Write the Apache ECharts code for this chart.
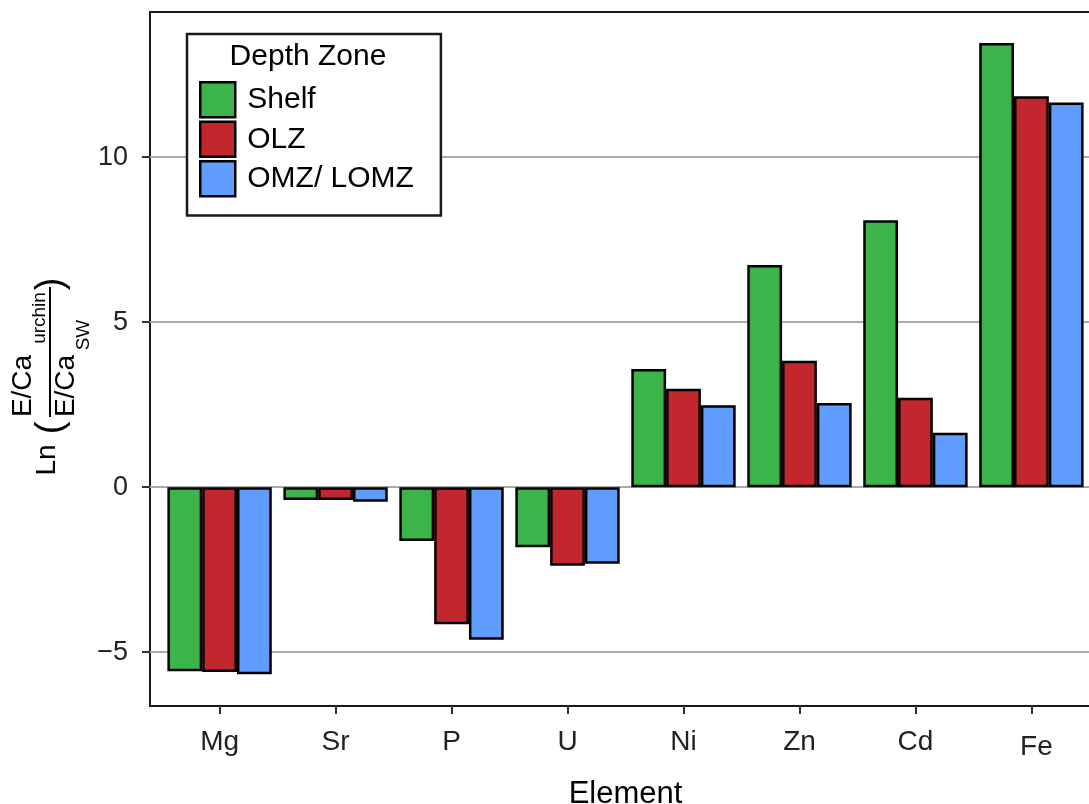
<!DOCTYPE html>
<html>
<head>
<meta charset="utf-8">
<script src="https://cdn.jsdelivr.net/npm/echarts@6/dist/echarts.min.js"></script>
<style>
html,body{margin:0;padding:0;background:#fff;}
#chart{width:1089px;height:804px;}
</style>
</head>
<body>
<div id="chart"></div>
<script>
// ---- data ----
var categories = ['Mg', 'Sr', 'P', 'U', 'Ni', 'Zn', 'Cd', 'Fe'];
var seriesNames = ['Shelf', 'OLZ', 'OMZ/ LOMZ'];
var shelf = [-5.58, -0.39, -1.63, -1.82, 3.58, 6.73, 8.09, 13.46];
var olz   = [-5.60, -0.39, -4.15, -2.38, 2.98, 3.83, 2.71, 11.85];
var omz   = [-5.67, -0.44, -4.62, -2.32, 2.48, 2.55, 1.65, 11.66];
var yTicks = [-5, 0, 5, 10];
var xTicks = [0, 1, 2, 3, 4, 5, 6, 7];

var colors = ['#3BB44A', '#C1272D', '#619CFF'];
var FONT = '"Liberation Sans", Arial, Helvetica, sans-serif';

function toPairs(arr) { return arr.map(function (v, i) { return [i, v]; }); }

var chart = echarts.init(document.getElementById('chart'), null, {renderer: 'canvas'});

var barCommon = function (name, data, color) {
  return {
    name: name,
    type: 'bar',
    data: toPairs(data),
    barWidth: 34.8,
    barGap: '0%',
    z: 3,
    itemStyle: {color: color, borderColor: '#000', borderWidth: 2.5},
    emphasis: {disabled: true}
  };
};

var option = {
  animation: false,
  backgroundColor: '#fff',
  textStyle: {fontFamily: FONT},
  grid: {
    left: 150, top: 12, width: 951, height: 694,
    outerBoundsMode: 'none',
    containLabel: false,
    show: true, borderColor: '#1a1a1a', borderWidth: 2, backgroundColor: 'transparent'
  },
  xAxis: {
    type: 'value',
    min: -0.6, max: 7.6,
    name: 'Element',
    nameLocation: 'middle',
    nameGap: 73,
    nameTextStyle: {fontFamily: FONT, fontSize: 31, color: '#000'},
    axisLine: {show: true, onZero: false, lineStyle: {color: '#1a1a1a', width: 2}},
    axisTick: {show: true, length: 8, customValues: xTicks, lineStyle: {color: '#333', width: 2}},
    axisLabel: {
      customValues: xTicks,
      margin: 22,
      fontFamily: FONT, fontSize: 28, color: '#222',
      formatter: function (v) {
        var name = categories[Math.round(v)];
        if (name === 'Fe') return '{fe|' + name + '}';
        return name;
      },
      rich: {fe: {fontFamily: FONT, fontSize: 28, color: '#222', padding: [5, 0, 0, 10]}}
    },
    splitLine: {show: false}
  },
  yAxis: {
    type: 'value',
    min: -6.63, max: 14.40,
    axisLine: {show: true, onZero: false, lineStyle: {color: '#1a1a1a', width: 2}},
    axisTick: {show: true, length: 8, customValues: yTicks, lineStyle: {color: '#333', width: 2}},
    axisLabel: {
      customValues: yTicks,
      margin: 22,
      fontFamily: FONT, fontSize: 27, color: '#222',
      formatter: function (v) { return v < 0 ? '\u2212' + Math.abs(v) : String(v); }
    },
    splitLine: {show: false}
  },
  legend: {
    orient: 'vertical',
    left: 187, top: 34,
    data: seriesNames,
    icon: 'rect',
    itemWidth: 35, itemHeight: 35, itemGap: 2,
    padding: [47, 27, 18, 12],
    backgroundColor: '#fff',
    borderColor: '#1a1a1a', borderWidth: 2.5,
    textStyle: {fontFamily: FONT, fontSize: 30, color: '#000', padding: [0, 0, 0, 7]},
    itemStyle: {borderColor: '#000', borderWidth: 2.5},
    selectedMode: false,
    z: 10
  },
  series: [
    {
      type: 'line', data: [], silent: true, z: 1,
      markLine: {
        silent: true, symbol: 'none', label: {show: false},
        lineStyle: {color: '#AAAAAA', width: 2, type: 'solid'},
        data: yTicks.map(function (t) { return {yAxis: t}; }),
        z: 1
      }
    },
    barCommon(seriesNames[0], shelf, colors[0]),
    barCommon(seriesNames[1], olz, colors[1]),
    barCommon(seriesNames[2], omz, colors[2])
  ],
  graphic: [
    {
      type: 'text', z: 100,
      x: 308, y: 57,
      style: {text: 'Depth Zone', fontFamily: FONT, fontSize: 30, fill: '#000', align: 'center', verticalAlign: 'middle'}
    },
    {
      type: 'group', x: 50, y: 385, rotation: Math.PI / 2, z: 100,
      children: [
        {type: 'text', x: -75, y: -3, style: {text: 'Ln', fontFamily: FONT, fontSize: 28, fill: '#000', align: 'center', verticalAlign: 'middle'}},
        {type: 'text', x: -43, y: 2, style: {text: '(', fontFamily: FONT, fontSize: 38, fill: '#000', align: 'center', verticalAlign: 'middle'}},
        {type: 'text', x: -1, y: -27, style: {text: 'E/Ca', fontFamily: FONT, fontSize: 28, fill: '#000', align: 'center', verticalAlign: 'middle'}},
        {type: 'text', x: 67, y: -10, style: {text: 'urchin', fontFamily: FONT, fontSize: 19, fill: '#000', align: 'center', verticalAlign: 'middle'}},
        {type: 'line', shape: {x1: -32, y1: 0, x2: 98, y2: 0}, style: {stroke: '#000', lineWidth: 2}},
        {type: 'text', x: -1, y: 16, style: {text: 'E/Ca', fontFamily: FONT, fontSize: 28, fill: '#000', align: 'center', verticalAlign: 'middle'}},
        {type: 'text', x: 50, y: 34, style: {text: 'SW', fontFamily: FONT, fontSize: 19, fill: '#000', align: 'center', verticalAlign: 'middle'}},
        {type: 'text', x: 101, y: 2, style: {text: ')', fontFamily: FONT, fontSize: 38, fill: '#000', align: 'center', verticalAlign: 'middle'}}
      ]
    }
  ]
};
chart.setOption(option);
</script>
</body>
</html>
